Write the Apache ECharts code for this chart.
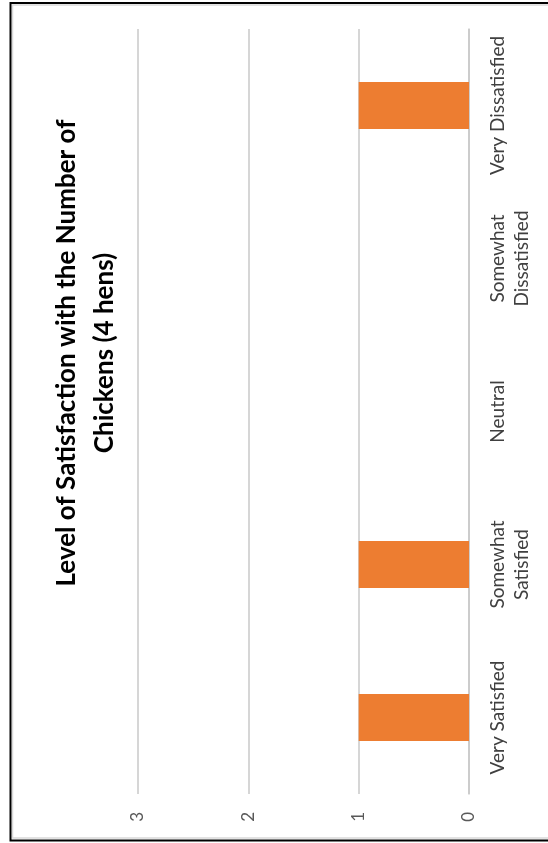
<!DOCTYPE html>
<html>
<head>
<meta charset="utf-8">
<script src="https://cdn.jsdelivr.net/npm/echarts@6/dist/echarts.min.js"></script>
<style>
  html, body { margin: 0; padding: 0; background: #fff; }
  #chart { width: 548px; height: 843px; }
</style>
</head>
<body>
<div id="chart"></div>
<script>
// chart data
const categories = ['Very Satisfied', 'Somewhat\nSatisfied', 'Neutral', 'Somewhat\nDissatisfied', 'Very Dissatisfied'];
const counts = [1, 1, 0, 0, 1];
const valueTicks = [0, 1, 2, 3];
const titleLines = ['Level of Satisfaction with the Number of', 'Chickens (4 hens)'];

const FONT = 'Lato, "Open Sans", sans-serif';

const myChart = echarts.init(document.getElementById('chart'));

myChart.setOption({
  animation: false,
  backgroundColor: '#fff',
  grid: { left: 138, right: 79, top: 29, bottom: 49 },
  // the whole chart is turned on its side: values run right->left
  xAxis: {
    type: 'value',
    inverse: true,
    position: 'bottom',
    min: valueTicks[0],
    max: valueTicks[valueTicks.length - 1],
    interval: 1,
    axisLine: { show: false },
    axisTick: { show: false },
    splitLine: { lineStyle: { color: '#c8c8c8', width: 1.5 } },
    axisLabel: { rotate: 90, margin: 18, fontSize: 17, color: '#595959', fontFamily: FONT }
  },
  yAxis: {
    type: 'category',
    position: 'right',
    data: categories,
    axisLine: { lineStyle: { color: '#c8c8c8', width: 1.5 } },
    axisTick: { show: false },
    axisLabel: {
      interval: 0,
      hideOverlap: false,
      rotate: 90,
      margin: 17,
      fontSize: 19,
      color: '#404040',
      fontFamily: FONT,
      lineHeight: 24
    }
  },
  series: [{
    type: 'bar',
    data: counts,
    barWidth: 47,
    itemStyle: { color: '#ED7D31' }
  }],
  graphic: [
    {
      type: 'rect',
      shape: { x: 12.5, y: 5, width: 540, height: 833 },
      style: { fill: null, stroke: '#d9d9d9', lineWidth: 1.5 },
      silent: true
    },
    {
      type: 'rect',
      shape: { x: 10.5, y: 3, width: 545, height: 837.5 },
      style: { fill: null, stroke: '#000', lineWidth: 2 },
      silent: true
    },
    {
      type: 'text',
      x: 86,
      y: 353,
      rotation: Math.PI / 2,
      style: {
        text: titleLines.join('\n'),
        font: 'bold 26px ' + FONT,
        fill: '#000',
        align: 'center',
        verticalAlign: 'middle',
        lineHeight: 38
      },
      silent: true
    }
  ]
});
</script>
</body>
</html>
